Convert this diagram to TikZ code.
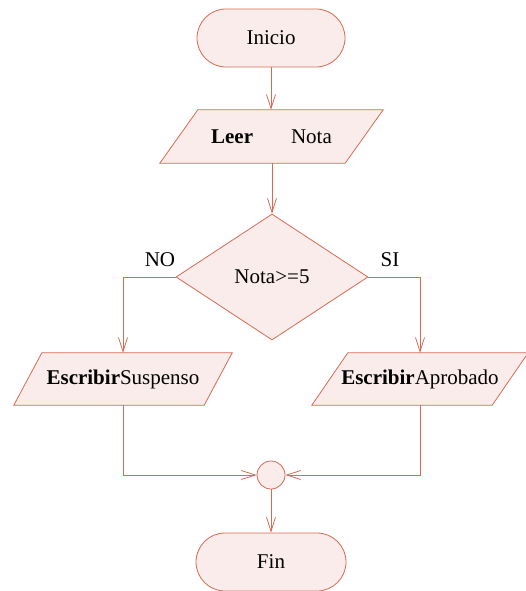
\documentclass[tikz,border=0pt]{standalone}
\usepackage{fontspec}
\setmainfont{Liberation Serif}
\usetikzlibrary{shapes.geometric,shapes.misc,arrows.meta,backgrounds}
\definecolor{edge}{HTML}{D66A52}
\definecolor{pale}{HTML}{F9ECEA}
\begin{document}
\begin{tikzpicture}[x=1pt,y=-1pt,
  font=\fontsize{21}{25}\selectfont,
  every node/.style={inner sep=0pt},
  term/.style={rounded rectangle,draw=edge,fill=pale,line width=0.8pt,minimum width=#1,minimum height=58pt},
  iobox/.style={rectangle,minimum height=52pt},
  decision/.style={diamond,draw=edge,fill=pale,line width=0.8pt,minimum width=192pt,minimum height=126pt},
  joint/.style={circle,draw=edge,fill=pale,line width=0.8pt,minimum size=28pt},
  flow/.style={draw=edge,line width=0.8pt,-{Straight Barb[length=14pt,width=9pt]}},
  slantbox/.style={draw=edge,fill=pale,line width=0.8pt}
]
\useasboundingbox (0,0) rectangle (525,591);
\node[term=148pt] (inicio) at (271,38) {Inicio};
\node[iobox,minimum width=185pt,minimum height=53pt] (leer) at (271.5,136.5) {\textbf{Leer}\hspace{38pt}Nota};
\node[decision] (dec) at (272,277) {Nota>=5};
\node (no) at (160,260) {NO};
\node (si) at (390,260) {SI};
\node[iobox,minimum width=190pt] (susp) at (123,379) {\textbf{Escribir}Suspenso};
\node[iobox,minimum width=180pt] (aprob) at (420,379) {\textbf{Escribir}Aprobado};
\node[joint] (junc) at (271,475) {};
\node[term=150pt] (fin) at (271,562) {Fin};
\begin{pgfonlayer}{background}
\draw[slantbox]
  ([xshift=-19pt]leer.south west) -- ([xshift=19pt]leer.north west) -- ([xshift=19pt]leer.north east) -- ([xshift=-19pt]leer.south east) -- cycle;
\draw[slantbox]
  ([xshift=-14pt]susp.south west) -- ([xshift=14pt]susp.north west) -- ([xshift=14pt]susp.north east) -- ([xshift=-14pt]susp.south east) -- cycle;
\draw[slantbox]
  ([xshift=-18pt]aprob.south west) -- ([xshift=18pt]aprob.north west) -- ([xshift=18pt]aprob.north east) -- ([xshift=-18pt]aprob.south east) -- cycle;
\end{pgfonlayer}
\draw[flow] (inicio.south) -- (leer.north -| inicio.south);
\draw[flow] (leer.south -| dec.north) -- (dec.north);
\draw[flow] (dec.west) -| (susp.north);
\draw[flow] (dec.east) -| (aprob.north);
\draw[flow] (susp.south) |- (junc.west);
\draw[flow] (aprob.south) |- (junc.east);
\draw[flow] (junc.south) -- (fin.north);
\end{tikzpicture}
\end{document}
